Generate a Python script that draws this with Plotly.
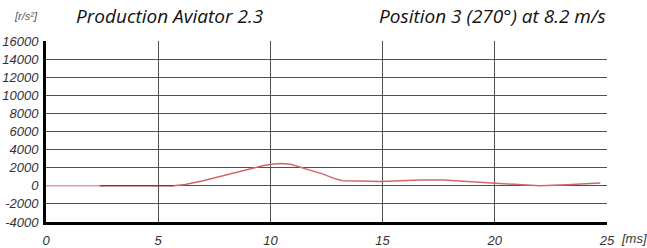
import plotly.graph_objects as go

# data (time in ms, angular acceleration in r/s^2)
lead_t = [-0.6, 2.4]
lead_v = [0, 0]
dark_t = [2.4, 5.7]
dark_v = [0, 0]
t = [5.7, 6.2, 7.0, 7.6, 8.4, 9.1, 9.7, 10.13, 10.5, 10.9, 11.3, 11.8, 12.35, 12.8, 13.2,
     14.0, 14.9, 15.8, 16.7, 17.7, 18.9, 20.0, 20.8, 22.0, 23.2, 24.7]
v = [0, 150, 550, 930, 1400, 1920, 2250, 2400, 2470, 2380, 2100, 1700, 1290, 850, 550,
     520, 480, 550, 630, 630, 440, 300, 150, 0, 110, 300]

x_ticks = [0, 5, 10, 15, 20, 25]
y_ticks = list(range(-4000, 16001, 2000))

W, H = 647, 248

fig = go.Figure()
fig.add_trace(go.Scatter(x=lead_t, y=lead_v, mode="lines", line=dict(color="#e59a9a", width=1.5), cliponaxis=False))
fig.add_trace(go.Scatter(x=dark_t, y=dark_v, mode="lines", line=dict(color="#9e2a2a", width=1.5)))
fig.add_trace(go.Scatter(x=t, y=v, mode="lines", line=dict(color="#d0666a", width=1.5)))

tickfont = dict(family="Liberation Sans, Arial", size=13, color="#333333")
fig.update_xaxes(range=[0, 25], tickvals=x_ticks, ticktext=["<i>%d</i>" % x for x in x_ticks],
                 showgrid=True, gridcolor="#505050", gridwidth=1, zeroline=False, automargin=False,
                 showline=True, linecolor="black", linewidth=3, ticks="", tickfont=tickfont,
                 ticklabelstandoff=4)
fig.update_yaxes(range=[-4000, 16000], tickvals=y_ticks, ticktext=["<i>%d</i>" % y for y in y_ticks],
                 showgrid=True, gridcolor="#505050", gridwidth=1, zeroline=False, automargin=False,
                 showline=True, linecolor="black", linewidth=3, ticks="", tickfont=tickfont,
                 ticklabelstandoff=2)

# plot area in page pixels: x 46..607, y 41..222
L, T = 46, 41
R, B = W - 607, H - 222
pw, ph = W - L - R, H - T - B

ann = [
    dict(text="<i>[r/s²]</i>", x=12, y=16, font=dict(family="Liberation Sans, Arial", size=11, color="#555555")),
    dict(text="<i>Production Aviator 2.3</i>", x=74, y=16, font=dict(family="Open Sans", size=19, color="#111111")),
    dict(text="<i>Position 3 (270°) at 8.2 m/s</i>", x=377, y=16, font=dict(family="Open Sans", size=19, color="#111111")),
    dict(text="<i>[ms]</i>", x=619, y=238, font=dict(family="Liberation Sans, Arial", size=13, color="#333333")),
]
annotations = []
for a in ann:
    annotations.append(dict(text=a["text"], x=(a["x"] - L) / pw, y=(H - B - a["y"]) / ph,
                            xref="paper", yref="paper", xanchor="left", yanchor="middle",
                            showarrow=False, font=a["font"]))

fig.update_layout(width=W, height=H, margin=dict(l=L, r=R, t=T, b=B),
                  paper_bgcolor="white", plot_bgcolor="white", showlegend=False,
                  hovermode=False, annotations=annotations)
fig.write_html("out.html", config={"displayModeBar": False, "staticPlot": True},
               post_script="document.body.style.margin='0';document.body.style.overflow='hidden';")
